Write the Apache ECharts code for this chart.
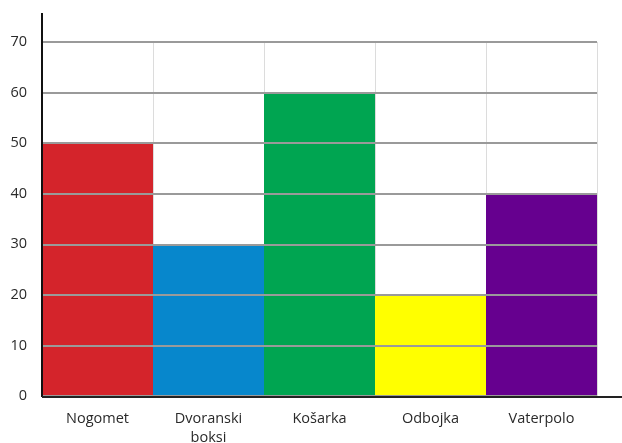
<!DOCTYPE html>
<html>
<head>
<meta charset="utf-8">
<script src="https://cdn.jsdelivr.net/npm/echarts@6/dist/echarts.min.js"></script>
<style>
  html, body {margin: 0; padding: 0; background: #fff;}
  #chart {width: 622px; height: 443px;}
</style>
</head>
<body>
<div id="chart"></div>
<script>
const categories = ['Nogomet', 'Dvoranski\nboksi', 'Košarka', 'Odbojka', 'Vaterpolo'];
const values = [50, 30, 60, 20, 40];
const colors = ['#d4242b', '#0787cc', '#00a551', '#ffff00', '#66008f'];

const chart = echarts.init(document.getElementById('chart'));
const font = '"Open Sans", "DejaVu Sans", sans-serif';
const gridLeft = 42;

chart.setOption({
  animation: false,
  grid: {left: gridLeft, right: 25, top: 42, bottom: 47, outerBoundsMode: 'none', containLabel: false},
  xAxis: {
    type: 'category',
    data: categories,
    axisTick: {show: false},
    axisLine: {show: false},
    axisLabel: {
      color: '#2a2a2a', fontFamily: font, fontSize: 14.5, margin: 13, lineHeight: 19
    },
    splitLine: {show: true, interval: 0, lineStyle: {color: '#dcdcdc', width: 1}}
  },
  yAxis: {
    type: 'value',
    min: 0,
    max: 70,
    interval: 10,
    z: 5,
    axisLine: {show: false},
    axisTick: {show: false},
    axisLabel: {color: '#2a2a2a', fontFamily: font, fontSize: 14.5, margin: 15},
    splitLine: {lineStyle: {color: '#9a9a9a', width: 2}}
  },
  series: [{
    type: 'bar',
    barCategoryGap: 0,
    data: values.map((v, i) => ({value: v, itemStyle: {color: colors[i]}}))
  }]
});

// axis lines: y runs above the top tick, x runs out to the right edge
const y0 = chart.convertToPixel({yAxisIndex: 0}, 0);
chart.setOption({
  graphic: [
    {type: 'line', z: 10, shape: {x1: gridLeft, y1: 13, x2: gridLeft, y2: y0 + 1},
      style: {stroke: '#111', lineWidth: 2}},
    {type: 'line', z: 10, shape: {x1: gridLeft, y1: y0 + 1, x2: 622, y2: y0 + 1},
      style: {stroke: '#222', lineWidth: 2}}
  ]
});
</script>
</body>
</html>
